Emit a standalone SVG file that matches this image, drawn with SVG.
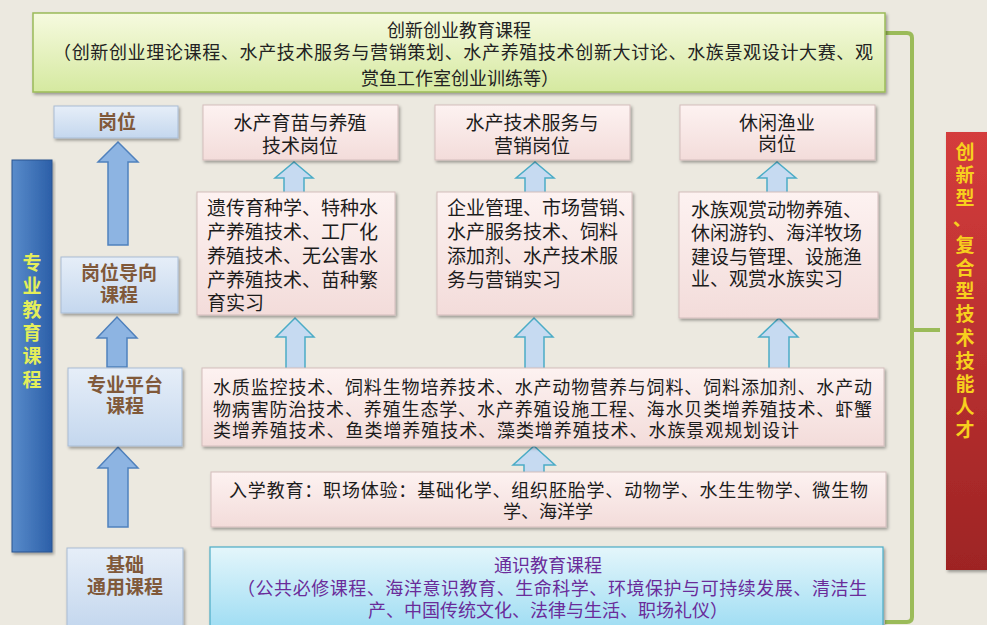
<svg xmlns="http://www.w3.org/2000/svg" width="987" height="625" viewBox="0 0 987 625">
<defs>
<linearGradient id="gGreen" x1="0" y1="0" x2="0" y2="1"><stop offset="0" stop-color="#F6FADF"/><stop offset="1" stop-color="#D5E9A0"/></linearGradient>
<linearGradient id="gPink" x1="0" y1="0" x2="0" y2="1"><stop offset="0" stop-color="#FDF2F1"/><stop offset="1" stop-color="#F3DCDA"/></linearGradient>
<linearGradient id="gLBlue" x1="0" y1="0" x2="0" y2="1"><stop offset="0" stop-color="#E6EEF8"/><stop offset="1" stop-color="#C4D7EE"/></linearGradient>
<linearGradient id="gCyan" x1="0" y1="0" x2="0" y2="1"><stop offset="0" stop-color="#E4F6FB"/><stop offset="1" stop-color="#9FDDF3"/></linearGradient>
<linearGradient id="gBlueBar" x1="0" y1="0" x2="1" y2="0"><stop offset="0" stop-color="#5A8CCB"/><stop offset="1" stop-color="#2B5FA8"/></linearGradient>
<linearGradient id="gRedBar" x1="0" y1="0" x2="0" y2="1"><stop offset="0" stop-color="#D43C3C"/><stop offset="1" stop-color="#9E2424"/></linearGradient>
<filter id="sh" x="-5%" y="-10%" width="115%" height="130%"><feDropShadow dx="1.5" dy="2" stdDeviation="1.5" flood-color="#000" flood-opacity="0.35"/></filter>
<style>
text{font-family:"Noto Sans CJK SC","Noto Sans",sans-serif;}
.body{font-size:18px;fill:#1c1c1c;}
.b19{font-size:19px;fill:#1c1c1c;}
.job{font-size:19px;fill:#1c1c1c;text-anchor:middle;}
.left{font-size:19px;fill:#80593A;font-weight:bold;text-anchor:middle;}
.pink{fill:url(#gPink);stroke:#D3BDBC;stroke-width:1;filter:url(#sh);}
.lb{fill:url(#gLBlue);stroke:#A9BCD4;stroke-width:1;filter:url(#sh);}
.bigArrow{fill:#8DB4E2;stroke:#4F81BD;stroke-width:1.5;}
.smArrow{fill:#C6DAF1;stroke:#4BACC6;stroke-width:1.5;}
.vbar{font-size:19px;font-weight:bold;writing-mode:vertical-rl;}
.gen{font-size:18px;fill:#6A2C9A;}
</style>
</defs>
<rect width="987" height="625" fill="#ECE9E0"/>

<g id="connectors">
<path d="M885,33 H907 Q912,33 912,38 V617 Q912,622 907,622 H885" fill="none" stroke="#9BBB59" stroke-width="4"/>
<path d="M912,330 H940" fill="none" stroke="#9BBB59" stroke-width="4"/>
<path class="bigArrow" d="M108,245 V162 H98 L118,142 L138,162 H128 V245 Z"/>
<path class="bigArrow" d="M107,367 V338 H97 L117,317 L137,338 H127 V367 Z"/>
<path class="bigArrow" d="M108,527 V468 H98 L118,447 L138,468 H128 V527 Z"/>
<path class="smArrow" d="M284,194 V178 H275 L294,162 L313,178 H304 V194 Z"/>
<path class="smArrow" d="M525,194 V178 H516 L535,162 L554,178 H545 V194 Z"/>
<path class="smArrow" d="M767,194 V178 H758 L777,162 L796,178 H787 V194 Z"/>
<path class="smArrow" d="M286,370 V337 H276 L295,318 L314,337 H305 V370 Z"/>
<path class="smArrow" d="M525,370 V337 H515 L534,318 L553,337 H544 V370 Z"/>
<path class="smArrow" d="M769,372 V337 H759 L779,318 L798,337 H789 V372 Z"/>
<path class="smArrow" d="M524,474 V465 H513 L534,446 L555,465 H544 V474 Z"/>
</g>

<g id="top-box">
<rect x="33" y="13" width="852" height="79" fill="url(#gGreen)" stroke="#9BBB59" stroke-width="1.5" filter="url(#sh)"/>
<text font-size="18" fill="#222"><tspan x="459" y="37" text-anchor="middle">创新创业教育课程</tspan><tspan x="53" y="59" textLength="820" lengthAdjust="spacing">（创新创业理论课程、水产技术服务与营销策划、水产养殖技术创新大讨论、水族景观设计大赛、观</tspan><tspan x="460" y="85" text-anchor="middle">赏鱼工作室创业训练等）</tspan></text>
</g>

<g id="left-bar">
<rect x="12" y="160" width="40" height="392" fill="url(#gBlueBar)" stroke="#2A5490" stroke-width="1" filter="url(#sh)"/>
<text class="vbar" x="32" y="253" letter-spacing="4.4" fill="#E4EE5A">专业教育课程</text>
</g>

<g id="right-bar">
<rect x="946" y="132" width="41" height="438" fill="url(#gRedBar)" filter="url(#sh)"/>
<text class="vbar" x="965" y="142" letter-spacing="4.2" fill="#F7CF1E">创新型<tspan dx="-14" dy="9">、</tspan><tspan dx="14" dy="-9">复合型技术技能人才</tspan></text>
</g>

<g id="post">
<rect class="lb" x="54" y="106" width="124" height="32"/>
<text class="left" x="117" y="129">岗位</text>
</g>
<g id="post-oriented">
<rect class="lb" x="61" y="257" width="117" height="56"/>
<text class="left"><tspan x="119" y="280">岗位导向</tspan><tspan x="119" y="302">课程</tspan></text>
</g>
<g id="platform-label">
<rect class="lb" x="68" y="368" width="114" height="78"/>
<text class="left"><tspan x="125" y="392">专业平台</tspan><tspan x="125" y="413">课程</tspan></text>
</g>
<g id="basic-label">
<rect class="lb" x="67" y="548" width="116" height="80"/>
<text class="left"><tspan x="125" y="572">基础</tspan><tspan x="125" y="594">通用课程</tspan></text>
</g>

<g id="job1">
<rect class="pink" x="203" y="105" width="195" height="55"/>
<text class="job"><tspan x="300" y="130">水产育苗与养殖</tspan><tspan x="300" y="153">技术岗位</tspan></text>
</g>
<g id="job2">
<rect class="pink" x="435" y="105" width="195" height="55"/>
<text class="job"><tspan x="532" y="130">水产技术服务与</tspan><tspan x="532" y="153">营销岗位</tspan></text>
</g>
<g id="job3">
<rect class="pink" x="680" y="105" width="195" height="55"/>
<text class="job"><tspan x="777" y="130">休闲渔业</tspan><tspan x="777" y="151">岗位</tspan></text>
</g>

<g id="course1">
<rect class="pink" x="197" y="192" width="198" height="123"/>
<text class="b19"><tspan x="207" y="215">遗传育种学、特种水</tspan><tspan x="207" y="239">产养殖技术、工厂化</tspan><tspan x="207" y="263">养殖技术、无公害水</tspan><tspan x="207" y="287">产养殖技术、苗种繁</tspan><tspan x="207" y="310">育实习</tspan></text>
</g>
<g id="course2">
<rect class="pink" x="437" y="192" width="195" height="123"/>
<text class="b19"><tspan x="447" y="215">企业管理、市场营销、</tspan><tspan x="447" y="239">水产服务技术、饲料</tspan><tspan x="447" y="263">添加剂、水产技术服</tspan><tspan x="447" y="287">务与营销实习</tspan></text>
</g>
<g id="course3">
<rect class="pink" x="679" y="192" width="199" height="126"/>
<text class="b19"><tspan x="691" y="217">水族观赏动物养殖、</tspan><tspan x="691" y="240">休闲游钓、海洋牧场</tspan><tspan x="691" y="264">建设与管理、设施渔</tspan><tspan x="691" y="286">业、观赏水族实习</tspan></text>
</g>

<g id="platform">
<rect class="pink" x="202" y="368" width="682" height="78"/>
<text class="body"><tspan x="213" y="394" textLength="659" lengthAdjust="spacing">水质监控技术、饲料生物培养技术、水产动物营养与饲料、饲料添加剂、水产动</tspan><tspan x="213" y="416" textLength="659" lengthAdjust="spacing">物病害防治技术、养殖生态学、水产养殖设施工程、海水贝类增养殖技术、虾蟹</tspan><tspan x="213" y="437" textLength="586" lengthAdjust="spacing">类增养殖技术、鱼类增养殖技术、藻类增养殖技术、水族景观规划设计</tspan></text>
</g>

<g id="entry">
<rect class="pink" x="211" y="472" width="675" height="55"/>
<text class="body"><tspan x="229" y="497" textLength="639" lengthAdjust="spacing">入学教育：职场体验：基础化学、组织胚胎学、动物学、水生生物学、微生物</tspan><tspan x="548" y="518" text-anchor="middle">学、海洋学</tspan></text>
</g>

<g id="general">
<rect x="210" y="547" width="673" height="82" fill="url(#gCyan)" stroke="#4BACC6" stroke-width="1.2" filter="url(#sh)"/>
<text class="gen"><tspan x="548" y="572" text-anchor="middle">通识教育课程</tspan><tspan x="237" y="595" textLength="630" lengthAdjust="spacing">（公共必修课程、海洋意识教育、生命科学、环境保护与可持续发展、清洁生</tspan><tspan x="548" y="617" text-anchor="middle">产、中国传统文化、法律与生活、职场礼仪）</tspan></text>
</g>
</svg>
